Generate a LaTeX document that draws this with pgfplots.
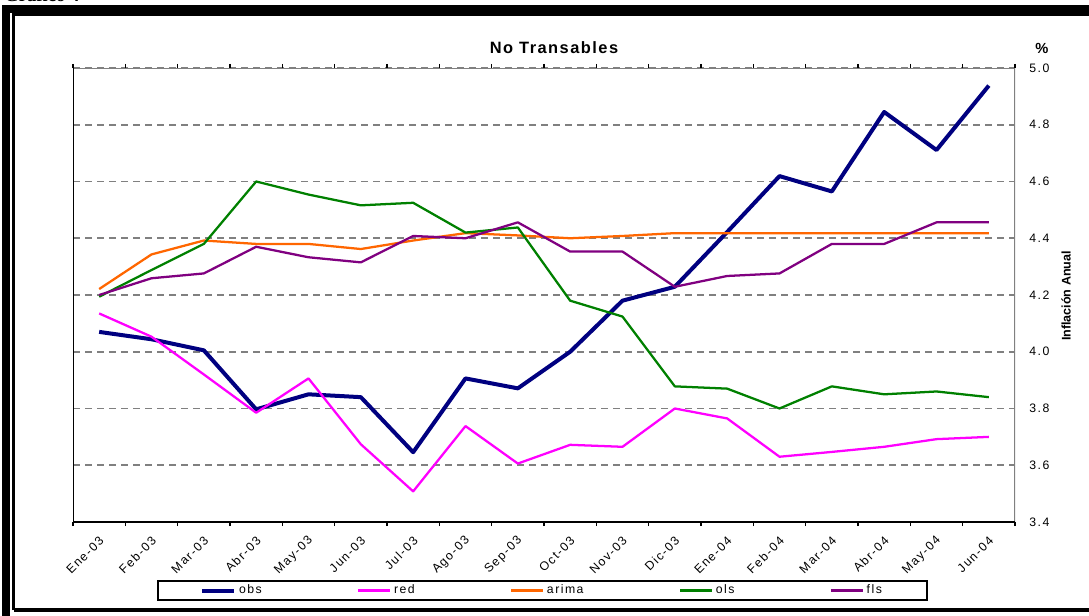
\documentclass[border=0pt]{standalone}
\usepackage{fontspec}
\setmainfont{Liberation Sans}
\newfontfamily\lsfont[LetterSpace=12]{Liberation Sans}
\newfontfamily\ttlfont[LetterSpace=9]{Liberation Sans}
\newfontfamily\serifb{Liberation Serif}
\usepackage{pgfplots}
\pgfplotsset{compat=1.18}
\definecolor{cobs}{RGB}{0,0,128}
\definecolor{cred}{RGB}{255,0,255}
\definecolor{carima}{RGB}{255,102,0}
\definecolor{cols}{RGB}{0,128,0}
\definecolor{cfls}{RGB}{128,0,128}
\definecolor{cgrid}{RGB}{128,128,128}
\begin{document}
\begin{tikzpicture}
\begin{scope}[x=0.75pt,y=0.75pt]
\useasboundingbox (0,0) rectangle (1089,615);
\draw[line width=6pt] (6,-20) -- (6,606) -- (1120,606);
\draw[line width=4.5pt] (2,606) -- (1120,606);
\draw[line width=2.25pt] (13.5,5) -- (13.5,600) -- (1120,600);
\draw[line width=3pt] (13.5,5) -- (1120,5);
\node[anchor=base west,font=\serifb\bfseries\fontsize{14}{16}\selectfont,inner sep=0pt] at (4,613.5) {Gráfico 4};
\node[font=\ttlfont\bfseries\fontsize{12.3}{14}\selectfont] at (554,567) {No Transables};
\node[font=\bfseries\fontsize{11}{13}\selectfont] at (1042,567) {\%};
\node[font=\bfseries\fontsize{9.4}{11}\selectfont, rotate=90] at (1066,319) {Inflación Anual};
\end{scope}
\begin{axis}[
  at={(54.75pt,69.75pt)}, anchor=south west, scale only axis,
  width=706.5pt, height=340.5pt,
  xmin=-0.5, xmax=17.5, ymin=3.4, ymax=5.0,
  xtick={0,...,17},
  xticklabels={Ene-03,Feb-03,Mar-03,Abr-03,May-03,Jun-03,Jul-03,Ago-03,Sep-03,Oct-03,Nov-03,Dic-03,Ene-04,Feb-04,Mar-04,Abr-04,May-04,Jun-04},
  minor xtick={-0.5,0.5,...,17.5},
  major x tick style={draw=none},
  minor x tick style={black, line width=1pt},
  tick align=outside, minor tick length=3pt,
  ytick={3.4,3.6,3.8,4.0,4.2,4.4,4.6,4.8,5.0},
  yticklabel pos=right,
  y tick style={draw=none},
  yticklabel style={xshift=3pt, /pgf/number format/.cd, fixed, precision=1, fixed zerofill, assume math mode=true},
  ymajorgrids,
  grid style={cgrid, line width=1.2pt, dash pattern=on 5.25pt off 3.75pt},
  axis line style={draw=none},
  ticklabel style={font=\lsfont\fontsize{9.2}{11}\selectfont},
  xticklabel style={rotate=45, anchor=east, yshift=-7pt, xshift=-1pt},
  legend columns=5,
  legend style={at={(0.4984,-0.1509)}, anchor=center, draw=black, line width=1.5pt,
    font=\lsfont\fontsize{9.2}{11}\selectfont, inner xsep=32pt, inner ysep=1.2pt,
    /tikz/every even column/.append style={column sep=69.5pt}},
  legend image code/.code={\draw[#1] (0pt,0pt) -- (24pt,0pt);},
  every axis plot/.append style={line join=round},
]
\addplot[cobs, line width=3pt] coordinates {(0,4.07)(1,4.044)(2,4.005)(3,3.797)(4,3.85)(5,3.84)(6,3.646)(7,3.906)(8,3.871)(9,4.00)(10,4.18)(11,4.229)(12,4.422)(13,4.619)(14,4.565)(15,4.845)(16,4.711)(17,4.938)};
\addlegendentry{obs}
\addplot[cred, line width=1.7pt] coordinates {(0,4.135)(1,4.053)(2,3.92)(3,3.785)(4,3.906)(5,3.674)(6,3.508)(7,3.738)(8,3.606)(9,3.672)(10,3.665)(11,3.80)(12,3.765)(13,3.63)(14,3.647)(15,3.665)(16,3.692)(17,3.70)};
\addlegendentry{red}
\addplot[carima, line width=1.7pt] coordinates {(0,4.221)(1,4.343)(2,4.392)(3,4.38)(4,4.38)(5,4.362)(6,4.392)(7,4.418)(8,4.41)(9,4.40)(10,4.408)(11,4.418)(12,4.418)(13,4.418)(14,4.418)(15,4.418)(16,4.418)(17,4.418)};
\addlegendentry{arima}
\addplot[cols, line width=1.7pt] coordinates {(0,4.194)(1,4.288)(2,4.38)(3,4.60)(4,4.554)(5,4.516)(6,4.525)(7,4.42)(8,4.438)(9,4.18)(10,4.124)(11,3.878)(12,3.870)(13,3.80)(14,3.878)(15,3.85)(16,3.86)(17,3.84)};
\addlegendentry{ols}
\addplot[cfls, line width=1.7pt] coordinates {(0,4.20)(1,4.259)(2,4.276)(3,4.37)(4,4.333)(5,4.315)(6,4.408)(7,4.40)(8,4.456)(9,4.353)(10,4.353)(11,4.229)(12,4.267)(13,4.276)(14,4.38)(15,4.38)(16,4.456)(17,4.456)};
\addlegendentry{fls}
\draw[cgrid, line width=1.6pt] (rel axis cs:0,1) -- (rel axis cs:1,1) -- (rel axis cs:1,0);
\draw[black, line width=1.6pt] (rel axis cs:0,1) -- (rel axis cs:0,0) -- (rel axis cs:1,0);
\end{axis}
\end{tikzpicture}
\end{document}
